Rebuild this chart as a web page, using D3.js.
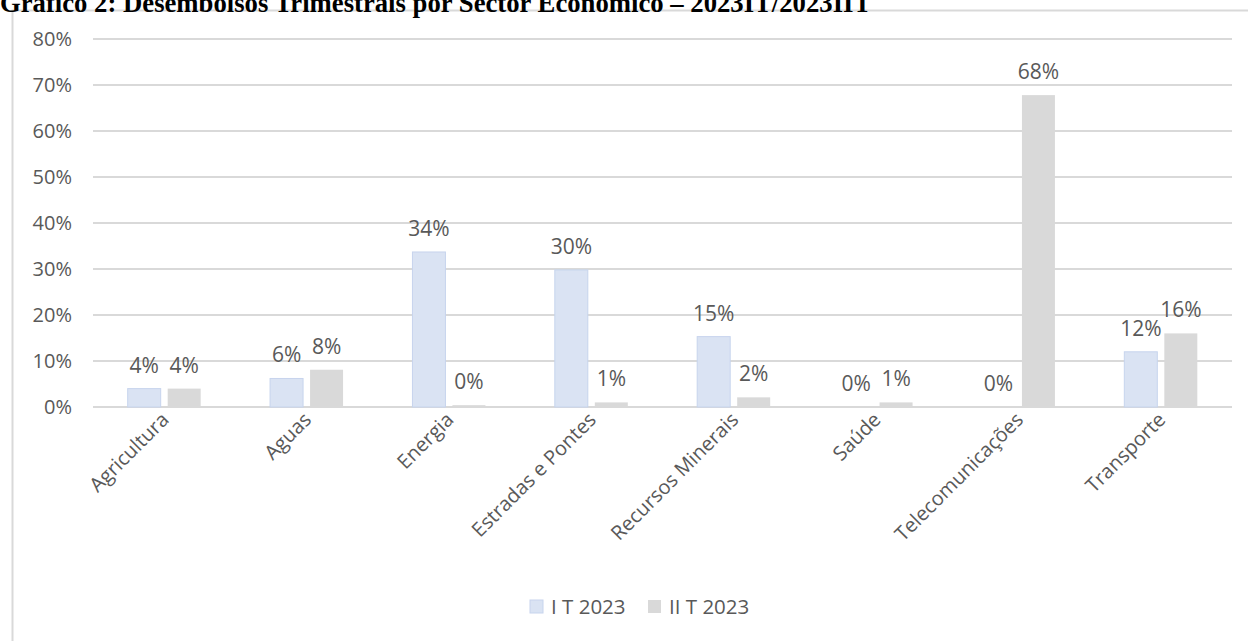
<!DOCTYPE html>
<html>
<head>
<meta charset="utf-8">
<script src="https://cdn.jsdelivr.net/npm/d3@7"></script>
<style>
  html, body { margin: 0; padding: 0; background: #fff; }
  svg { display: block; }
</style>
</head>
<body>
<svg id="chart" width="1248" height="641"></svg>
<script>
// Sectors and quarterly disbursement shares (%)
const sectors = ["Agricultura", "Aguas", "Energia", "Estradas e Pontes", "Recursos Minerais", "Saúde", "Telecomunicações", "Transporte"];
const seriesNames = ["I T 2023", "II T 2023"];
const q1Values = [4.0, 6.2, 33.7, 29.8, 15.3, 0.0, 0.0, 12.0];
const q2Values = [4.0, 8.1, 0.4, 1.0, 2.1, 1.0, 67.8, 16.0];
const yTicks = [0, 10, 20, 30, 40, 50, 60, 70, 80];
const titleText = "Gráfico 2: Desembolsos Trimestrais por Sector Económico – 2023IT/2023IIT";

const seriesColors = ["#dae3f3", "#d9d9d9"];
const seriesStroke = ["#c7d4ed", "none"];
const textColor = "#595959";
const font = "'Open Sans', 'Noto Sans', sans-serif";

const svg = d3.select("#chart");

// Chart frame
svg.append("rect")
  .attr("x", 12.5).attr("y", 10.5)
  .attr("width", 1248).attr("height", 700)
  .attr("fill", "#fff")
  .attr("stroke", "#d9d9d9").attr("stroke-width", 2);

// Document caption above the chart
svg.append("text")
  .attr("x", 0).attr("y", 12)
  .attr("font-family", "'Liberation Serif', 'Times New Roman', serif")
  .attr("font-weight", "bold")
  .attr("font-size", 26.7)
  .attr("fill", "#000")
  .text(titleText);

const y = d3.scaleLinear().domain([0, 80]).range([407, 39]);
const x0 = d3.scaleBand().domain(sectors).range([93, 1232]).paddingInner(0).paddingOuter(0);
const x1 = d3.scaleBand().domain(seriesNames).range([-36.5, 36.5]).paddingInner(0.175).paddingOuter(0);

// Horizontal gridlines
svg.append("g")
  .selectAll("line")
  .data(yTicks)
  .join("line")
  .attr("x1", 93).attr("x2", 1232)
  .attr("y1", d => y(d)).attr("y2", d => y(d))
  .attr("stroke", "#d9d9d9").attr("stroke-width", 2);

// Y axis labels
const yAxis = d3.axisLeft(y).tickValues(yTicks).tickFormat(d => d + "%").tickSize(0).tickPadding(0);
const yG = svg.append("g").attr("transform", "translate(72,0)").call(yAxis);
yG.select(".domain").remove();
yG.selectAll("text")
  .attr("font-family", font).attr("font-size", 20).attr("fill", textColor);

// Bars
const rows = sectors.map((s, i) => ({ sector: s, values: [q1Values[i], q2Values[i]] }));
const groups = svg.append("g").selectAll("g")
  .data(rows)
  .join("g")
  .attr("transform", d => `translate(${x0(d.sector) + x0.bandwidth() / 2},0)`);

groups.selectAll("rect")
  .data(d => d.values.map((v, k) => ({ key: seriesNames[k], k, v })))
  .join("rect")
  .attr("x", d => x1(d.key))
  .attr("width", x1.bandwidth())
  .attr("y", d => y(d.v))
  .attr("height", d => y(0) - y(d.v))
  .attr("fill", d => seriesColors[d.k])
  .attr("stroke", d => seriesStroke[d.k])
  .attr("stroke-width", 1);

// Value labels
groups.selectAll("text.val")
  .data(d => d.values.map((v, k) => ({ key: seriesNames[k], k, v })))
  .join("text")
  .attr("class", "val")
  .attr("x", d => x1(d.key) + x1.bandwidth() / 2)
  .attr("y", d => y(d.v) - 16)
  .attr("text-anchor", "middle")
  .attr("font-family", font).attr("font-size", 21).attr("fill", textColor)
  .text(d => Math.round(d.v) + "%");

// Category labels, rotated
const xAxis = d3.axisBottom(x0).tickSize(0).tickPadding(0);
const xG = svg.append("g").attr("transform", "translate(0,407)").call(xAxis);
xG.select(".domain").remove();
xG.selectAll("text")
  .attr("font-family", font).attr("font-size", 20).attr("fill", textColor)
  .attr("text-anchor", "end")
  .attr("dy", null).attr("y", 0)
  .attr("transform", "translate(6,14) rotate(-45)");

// Legend
const legend = svg.append("g").attr("transform", "translate(530,607)");
const legendX = [0, 118];
seriesNames.forEach((name, k) => {
  const g = legend.append("g").attr("transform", `translate(${legendX[k]},0)`);
  g.append("rect")
    .attr("x", 0).attr("y", -7).attr("width", 13).attr("height", 13)
    .attr("fill", seriesColors[k]).attr("stroke", seriesStroke[k]);
  g.append("text")
    .attr("x", 21).attr("y", 7)
    .attr("font-family", font).attr("font-size", 20.5).attr("fill", textColor)
    .text(name);
});
</script>
</body>
</html>
